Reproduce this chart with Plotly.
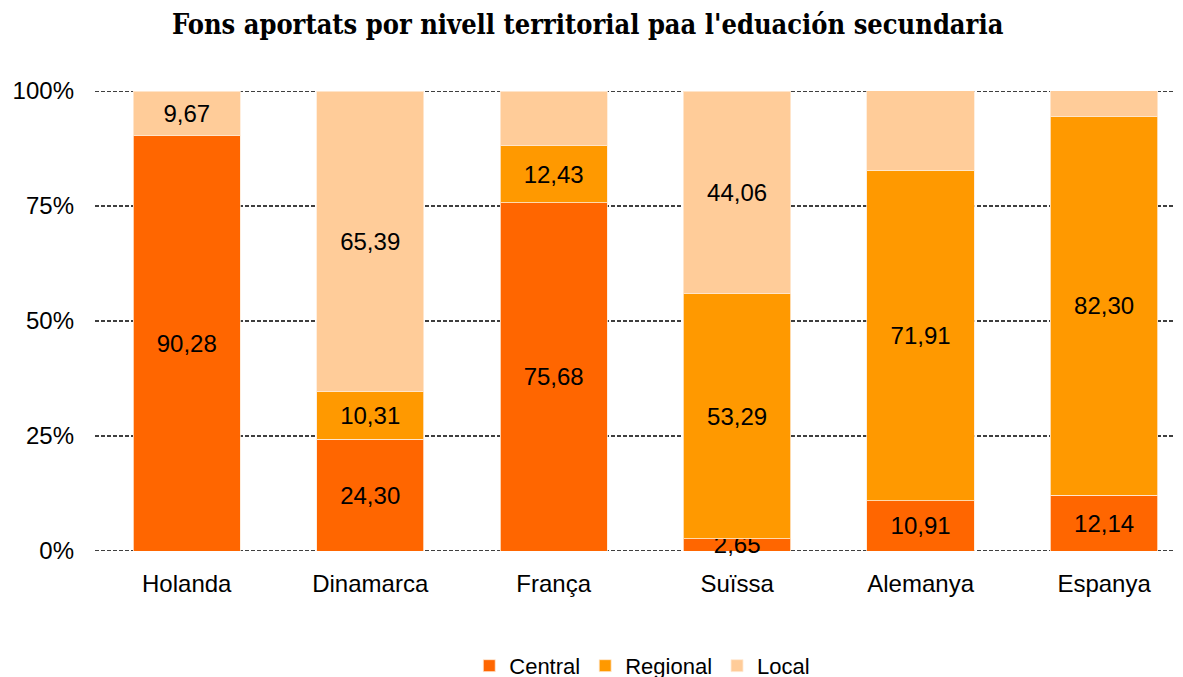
import plotly.graph_objects as go

countries = ["Holanda", "Dinamarca", "França", "Suïssa", "Alemanya", "Espanya"]
central = [90.28, 24.30, 75.68, 2.65, 10.91, 12.14]
regional = [0.0, 10.31, 12.43, 53.29, 71.91, 82.30]
local = [9.67, 65.39, 11.89, 44.06, 17.19, 5.57]
y_ticks = [0, 25, 50, 75, 100]
y_tick_labels = ["0%", "25%", "50%", "75%", "100%"]

series = [("Central", central, "#FF6600"),
          ("Regional", regional, "#FF9900"),
          ("Local", local, "#FFCC99")]


def fmt(v):
    return "" if v == 0 else f"{v:.2f}".replace(".", ",")


fig = go.Figure()
for name, vals, col in series:
    fig.add_trace(go.Bar(
        x=countries, y=vals, name=name,
        marker=dict(color=col, line=dict(color="rgba(255,235,215,0.8)", width=1)),
        text=[fmt(v) for v in vals],
        textposition="inside", insidetextanchor="middle",
        textangle=0, constraintext="none", cliponaxis=False,
        textfont=dict(family="Liberation Sans, Arial, sans-serif", size=24, color="black"),
        hoverinfo="skip",
    ))

# dashed horizontal gridlines (behind bars)
for yv in y_ticks:
    fig.add_shape(type="line", xref="paper", x0=0, x1=1, yref="y", y0=yv, y1=yv,
                  line=dict(color="black", width=1.5, dash="4px,2px"), layer="below")

fig.update_layout(
    barmode="stack",
    bargap=0.415,
    width=1183, height=685,
    margin=dict(l=87, r=8, t=83, b=141),
    paper_bgcolor="white", plot_bgcolor="rgba(0,0,0,0)",
    title=dict(text="<b>Fons aportats por nivell territorial paa l'eduación secundaria</b>",
               x=0.49, xanchor="center", y=1 - 17 / 685, yanchor="middle",
               font=dict(family="DejaVu Serif Condensed, DejaVu Serif, serif", size=27, color="black")),
    font=dict(family="Liberation Sans, Arial, sans-serif", color="black"),
    legend=dict(orientation="h", x=0.503, xanchor="center", y=-0.247, yanchor="middle",
                font=dict(size=22), traceorder="normal", itemwidth=30),
    showlegend=True,
)
fig.update_xaxes(range=[-0.5, 5.43], showgrid=False, showline=False, ticks="",
                 tickfont=dict(size=24), ticklabelstandoff=16, automargin=False)
fig.update_yaxes(range=[0, 100], tickvals=y_ticks, ticktext=y_tick_labels,
                 showgrid=False, zeroline=False, showline=False, ticks="",
                 tickfont=dict(size=24), ticklabelstandoff=20, automargin=False)

fig.write_html("out.html")
